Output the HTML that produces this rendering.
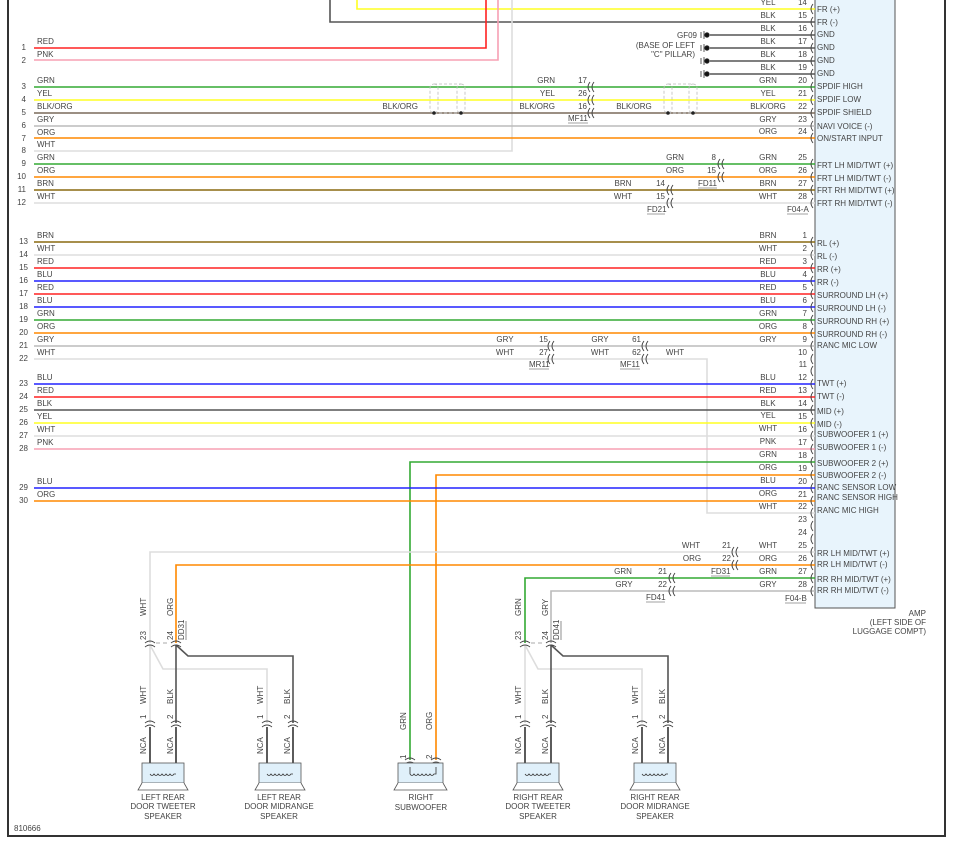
<!DOCTYPE html>
<html><head><meta charset="utf-8"><style>
html,body{margin:0;padding:0;background:#fff;}
svg{display:block;}
text{font-family:"Liberation Sans",sans-serif;font-size:8px;fill:#444;}
.e{text-anchor:end}.m{text-anchor:middle}
</style></head><body>
<svg width="953" height="848" viewBox="0 0 953 848" xmlns="http://www.w3.org/2000/svg">
<defs>
<path id="cc" d="M2 -5 q-4 5 0 10 M6 -5 q-4 5 0 10" stroke="#444" stroke-width="0.9" fill="none"/>
<path id="c1" d="M3 -5 q-4 5 0 10" stroke="#444" stroke-width="0.9" fill="none"/>
<path id="vc" d="M-5 -2 q5 -4 10 0 M-5 2 q5 -4 10 0" stroke="#444" stroke-width="0.9" fill="none"/>
</defs>
<!-- frame -->
<path d="M8 0 V836 H945 V0" stroke="#333" stroke-width="2" fill="none"/>
<!-- amp box -->
<rect x="815" y="-2" width="80" height="610" fill="#e8f4fc" stroke="#555" stroke-width="1"/>
<text class="e" x="926" y="616">AMP</text>
<text class="e" x="926" y="625">(LEFT SIDE OF</text>
<text class="e" x="926" y="634">LUGGAGE COMPT)</text>
<text x="14" y="831">810666</text>

<g fill="none" stroke-width="1.6">
<!-- top -->
<path d="M357 0 V9 H815" stroke="#ff2"/>
<path d="M330 0 V22 H815" stroke="#555"/>
<path d="M34 48 H486 V0" stroke="#f22"/>
<path d="M34 60 H498 V0" stroke="#f7a0b4"/>
<path d="M34 151 H512 V0" stroke="#ddd"/>
<path d="M710 35H815M710 48H815M710 61H815M710 74H815" stroke="#555"/>
<line x1="34" y1="87" x2="815" y2="87" stroke="#3a3"/>
<line x1="34" y1="100" x2="815" y2="100" stroke="#ff2"/>
<line x1="34" y1="113" x2="815" y2="113" stroke="#7a6a5a"/>
<line x1="34" y1="126" x2="815" y2="126" stroke="#bbb"/>
<line x1="34" y1="138" x2="815" y2="138" stroke="#f80"/>
<line x1="34" y1="164" x2="815" y2="164" stroke="#3a3"/>
<line x1="34" y1="177" x2="815" y2="177" stroke="#f80"/>
<line x1="34" y1="190" x2="815" y2="190" stroke="#8a6a10"/>
<line x1="34" y1="203" x2="815" y2="203" stroke="#ddd"/>
<!-- F04-B -->
<line x1="34" y1="242" x2="815" y2="242" stroke="#8a6a10"/>
<line x1="34" y1="255" x2="815" y2="255" stroke="#ddd"/>
<line x1="34" y1="268" x2="815" y2="268" stroke="#f22"/>
<line x1="34" y1="281" x2="815" y2="281" stroke="#22f"/>
<line x1="34" y1="294" x2="815" y2="294" stroke="#f22"/>
<line x1="34" y1="307" x2="815" y2="307" stroke="#22f"/>
<line x1="34" y1="320" x2="815" y2="320" stroke="#3a3"/>
<line x1="34" y1="333" x2="815" y2="333" stroke="#f80"/>
<line x1="34" y1="346" x2="815" y2="346" stroke="#bbb"/>
<path d="M34 359 H707 V513 H815" stroke="#ddd"/>
<line x1="34" y1="384" x2="815" y2="384" stroke="#22f"/>
<line x1="34" y1="397" x2="815" y2="397" stroke="#f22"/>
<line x1="34" y1="410" x2="815" y2="410" stroke="#555"/>
<line x1="34" y1="423" x2="815" y2="423" stroke="#ff2"/>
<line x1="34" y1="436" x2="815" y2="436" stroke="#ddd"/>
<line x1="34" y1="449" x2="815" y2="449" stroke="#f7a0b4"/>
<path d="M410 760 V462 H815" stroke="#3a3"/>
<path d="M436 760 V475 H815" stroke="#f80"/>
<line x1="34" y1="488" x2="815" y2="488" stroke="#22f"/>
<line x1="34" y1="501" x2="815" y2="501" stroke="#f80"/>
<path d="M150 643 V552 H815" stroke="#ddd"/>
<path d="M176 643 V565 H815" stroke="#f80"/>
<path d="M525 643 V578 H815" stroke="#3a3"/>
<path d="M551 643 V591 H815" stroke="#bbb"/>
<!-- junctions -->
<path d="M150 645 V723 M150 645 L163 669 H267 V723" stroke="#ddd"/>
<path d="M176 645 V723 M176 645 L188 656 H293 V723" stroke="#555"/>
<path d="M525 645 V723 M525 645 L538 669 H642 V723" stroke="#ddd"/>
<path d="M551 645 V723 M551 645 L563 656 H668 V723" stroke="#555"/>
<path d="M150 727 V774 M176 727 V774 M267 727 V774 M293 727 V774 M525 727 V774 M551 727 V774 M642 727 V774 M668 727 V774" stroke="#333"/>
</g>
<path d="M156 643 H170 M531 643 H545" stroke="#aaa" stroke-dasharray="4,3"/>
<!-- shields -->
<g fill="none" stroke="#bbb" stroke-width="0.8" stroke-dasharray="3,2">
<rect x="430" y="84" width="8" height="29" rx="4"/><rect x="457" y="84" width="8" height="29" rx="4"/>
<line x1="434" y1="84" x2="461" y2="84"/><line x1="434" y1="113" x2="461" y2="113"/>
<rect x="664" y="84" width="8" height="29" rx="4"/><rect x="689" y="84" width="8" height="29" rx="4"/>
<line x1="668" y1="84" x2="693" y2="84"/><line x1="668" y1="113" x2="693" y2="113"/>
</g>
<circle cx="434" cy="113" r="1.8" fill="#222"/><circle cx="461" cy="113" r="1.8" fill="#222"/>
<circle cx="668" cy="113" r="1.8" fill="#222"/><circle cx="693" cy="113" r="1.8" fill="#222"/>
<!-- grounds -->
<g fill="#111" stroke="#333" stroke-width="0.8">
<circle cx="707" cy="35" r="2.3"/><path d="M704 31V39M701 32V38"/>
<circle cx="707" cy="48" r="2.3"/><path d="M704 44V52M701 45V51"/>
<circle cx="707" cy="61" r="2.3"/><path d="M704 57V65M701 58V64"/>
<circle cx="707" cy="74" r="2.3"/><path d="M704 70V78M701 71V77"/>
</g>
<text class="e" x="697" y="38">GF09</text>
<text class="e" x="695" y="48">(BASE OF LEFT</text>
<text class="e" x="695" y="57">"C" PILLAR)</text>

<!-- left numbers & labels -->
<g>
<text class="e" x="26" y="50">1</text><text x="37" y="44">RED</text>
<text class="e" x="26" y="63">2</text><text x="37" y="57">PNK</text>
<text class="e" x="26" y="89">3</text><text x="37" y="83">GRN</text>
<text class="e" x="26" y="102">4</text><text x="37" y="96">YEL</text>
<text class="e" x="26" y="115">5</text><text x="37" y="109">BLK/ORG</text>
<text class="e" x="26" y="128">6</text><text x="37" y="122">GRY</text>
<text class="e" x="26" y="141">7</text><text x="37" y="135">ORG</text>
<text class="e" x="26" y="153">8</text><text x="37" y="147">WHT</text>
<text class="e" x="26" y="166">9</text><text x="37" y="160">GRN</text>
<text class="e" x="26" y="179">10</text><text x="37" y="173">ORG</text>
<text class="e" x="26" y="192">11</text><text x="37" y="186">BRN</text>
<text class="e" x="26" y="205">12</text><text x="37" y="199">WHT</text>
<text class="e" x="28" y="244">13</text><text x="37" y="238">BRN</text>
<text class="e" x="28" y="257">14</text><text x="37" y="251">WHT</text>
<text class="e" x="28" y="270">15</text><text x="37" y="264">RED</text>
<text class="e" x="28" y="283">16</text><text x="37" y="277">BLU</text>
<text class="e" x="28" y="296">17</text><text x="37" y="290">RED</text>
<text class="e" x="28" y="309">18</text><text x="37" y="303">BLU</text>
<text class="e" x="28" y="322">19</text><text x="37" y="316">GRN</text>
<text class="e" x="28" y="335">20</text><text x="37" y="329">ORG</text>
<text class="e" x="28" y="348">21</text><text x="37" y="342">GRY</text>
<text class="e" x="28" y="361">22</text><text x="37" y="355">WHT</text>
<text class="e" x="28" y="386">23</text><text x="37" y="380">BLU</text>
<text class="e" x="28" y="399">24</text><text x="37" y="393">RED</text>
<text class="e" x="28" y="412">25</text><text x="37" y="406">BLK</text>
<text class="e" x="28" y="425">26</text><text x="37" y="419">YEL</text>
<text class="e" x="28" y="438">27</text><text x="37" y="432">WHT</text>
<text class="e" x="28" y="451">28</text><text x="37" y="445">PNK</text>
<text class="e" x="28" y="490">29</text><text x="37" y="484">BLU</text>
<text class="e" x="28" y="503">30</text><text x="37" y="497">ORG</text>
</g>

<!-- inline connectors -->
<use href="#cc" x="588" y="87"/><use href="#cc" x="588" y="100"/><use href="#cc" x="588" y="113"/>
<text class="e" x="555" y="83">GRN</text><text class="e" x="587" y="83">17</text>
<text class="e" x="555" y="96">YEL</text><text class="e" x="587" y="96">26</text>
<text class="e" x="555" y="109">BLK/ORG</text><text class="e" x="587" y="109">16</text>
<text class="e" x="418" y="109">BLK/ORG</text><text class="m" x="634" y="109">BLK/ORG</text>
<text x="568" y="121">MF11</text><line x1="568" y1="123" x2="588" y2="123" stroke="#444" stroke-width="0.6"/>

<use href="#cc" x="718" y="164"/><use href="#cc" x="718" y="177"/>
<text class="m" x="675" y="160">GRN</text><text class="e" x="716" y="160">8</text>
<text class="m" x="675" y="173">ORG</text><text class="e" x="716" y="173">15</text>
<text x="698" y="186">FD11</text><line x1="698" y1="188" x2="717" y2="188" stroke="#444" stroke-width="0.6"/>
<use href="#cc" x="667" y="190"/><use href="#cc" x="667" y="203"/>
<text class="m" x="623" y="186">BRN</text><text class="e" x="665" y="186">14</text>
<text class="m" x="623" y="199">WHT</text><text class="e" x="665" y="199">15</text>
<text x="647" y="212">FD21</text><line x1="647" y1="214" x2="665" y2="214" stroke="#444" stroke-width="0.6"/>
<text x="787" y="212">F04-A</text><line x1="787" y1="214" x2="808" y2="214" stroke="#444" stroke-width="0.6"/>

<use href="#cc" x="548" y="346"/><use href="#cc" x="548" y="359"/>
<text class="m" x="505" y="342">GRY</text><text class="e" x="548" y="342">15</text>
<text class="m" x="505" y="355">WHT</text><text class="e" x="548" y="355">27</text>
<text x="529" y="367">MR11</text><line x1="529" y1="369" x2="549" y2="369" stroke="#444" stroke-width="0.6"/>
<use href="#cc" x="642" y="346"/><use href="#cc" x="642" y="359"/>
<text class="m" x="600" y="342">GRY</text><text class="e" x="641" y="342">61</text>
<text class="m" x="600" y="355">WHT</text><text class="e" x="641" y="355">62</text>
<text class="m" x="675" y="355">WHT</text>
<text x="620" y="367">MF11</text><line x1="620" y1="369" x2="640" y2="369" stroke="#444" stroke-width="0.6"/>

<use href="#cc" x="732" y="552"/><use href="#cc" x="732" y="565"/>
<text class="m" x="691" y="548">WHT</text><text class="e" x="731" y="548">21</text>
<text class="m" x="692" y="561">ORG</text><text class="e" x="731" y="561">22</text>
<text x="711" y="574">FD31</text><line x1="711" y1="576" x2="730" y2="576" stroke="#444" stroke-width="0.6"/>
<use href="#cc" x="669" y="578"/><use href="#cc" x="669" y="591"/>
<text class="m" x="623" y="574">GRN</text><text class="e" x="667" y="574">21</text>
<text class="m" x="624" y="587">GRY</text><text class="e" x="667" y="587">22</text>
<text x="646" y="600">FD41</text><line x1="646" y1="602" x2="665" y2="602" stroke="#444" stroke-width="0.6"/>
<text x="785" y="601">F04-B</text><line x1="785" y1="603" x2="806" y2="603" stroke="#444" stroke-width="0.6"/>

<!-- amp pins F04-A -->
<g>
<use href="#c1" x="810" y="9"/><text class="m" x="768" y="5">YEL</text><text class="e" x="807" y="5">14</text><text x="817" y="12">FR (+)</text>
<use href="#c1" x="810" y="22"/><text class="m" x="768" y="18">BLK</text><text class="e" x="807" y="18">15</text><text x="817" y="25">FR (-)</text>
<use href="#c1" x="810" y="35"/><text class="m" x="768" y="31">BLK</text><text class="e" x="807" y="31">16</text><text x="817" y="37">GND</text>
<use href="#c1" x="810" y="48"/><text class="m" x="768" y="44">BLK</text><text class="e" x="807" y="44">17</text><text x="817" y="50">GND</text>
<use href="#c1" x="810" y="61"/><text class="m" x="768" y="57">BLK</text><text class="e" x="807" y="57">18</text><text x="817" y="63">GND</text>
<use href="#c1" x="810" y="74"/><text class="m" x="768" y="70">BLK</text><text class="e" x="807" y="70">19</text><text x="817" y="76">GND</text>
<use href="#c1" x="810" y="87"/><text class="m" x="768" y="83">GRN</text><text class="e" x="807" y="83">20</text><text x="817" y="89">SPDIF HIGH</text>
<use href="#c1" x="810" y="100"/><text class="m" x="768" y="96">YEL</text><text class="e" x="807" y="96">21</text><text x="817" y="102">SPDIF LOW</text>
<use href="#c1" x="810" y="113"/><text class="m" x="768" y="109">BLK/ORG</text><text class="e" x="807" y="109">22</text><text x="817" y="115">SPDIF SHIELD</text>
<use href="#c1" x="810" y="126"/><text class="m" x="768" y="122">GRY</text><text class="e" x="807" y="122">23</text><text x="817" y="129">NAVI VOICE (-)</text>
<use href="#c1" x="810" y="138"/><text class="m" x="768" y="134">ORG</text><text class="e" x="807" y="134">24</text><text x="817" y="141">ON/START INPUT</text>
<use href="#c1" x="810" y="164"/><text class="m" x="768" y="160">GRN</text><text class="e" x="807" y="160">25</text><text x="817" y="168">FRT LH MID/TWT (+)</text>
<use href="#c1" x="810" y="177"/><text class="m" x="768" y="173">ORG</text><text class="e" x="807" y="173">26</text><text x="817" y="181">FRT LH MID/TWT (-)</text>
<use href="#c1" x="810" y="190"/><text class="m" x="768" y="186">BRN</text><text class="e" x="807" y="186">27</text><text x="817" y="193">FRT RH MID/TWT (+)</text>
<use href="#c1" x="810" y="203"/><text class="m" x="768" y="199">WHT</text><text class="e" x="807" y="199">28</text><text x="817" y="206">FRT RH MID/TWT (-)</text>
</g>
<!-- amp pins F04-B -->
<g>
<use href="#c1" x="810" y="242"/><text class="m" x="768" y="238">BRN</text><text class="e" x="807" y="238">1</text><text x="817" y="246">RL (+)</text>
<use href="#c1" x="810" y="255"/><text class="m" x="768" y="251">WHT</text><text class="e" x="807" y="251">2</text><text x="817" y="259">RL (-)</text>
<use href="#c1" x="810" y="268"/><text class="m" x="768" y="264">RED</text><text class="e" x="807" y="264">3</text><text x="817" y="272">RR (+)</text>
<use href="#c1" x="810" y="281"/><text class="m" x="768" y="277">BLU</text><text class="e" x="807" y="277">4</text><text x="817" y="285">RR (-)</text>
<use href="#c1" x="810" y="294"/><text class="m" x="768" y="290">RED</text><text class="e" x="807" y="290">5</text><text x="817" y="298">SURROUND LH (+)</text>
<use href="#c1" x="810" y="307"/><text class="m" x="768" y="303">BLU</text><text class="e" x="807" y="303">6</text><text x="817" y="311">SURROUND LH (-)</text>
<use href="#c1" x="810" y="320"/><text class="m" x="768" y="316">GRN</text><text class="e" x="807" y="316">7</text><text x="817" y="324">SURROUND RH (+)</text>
<use href="#c1" x="810" y="333"/><text class="m" x="768" y="329">ORG</text><text class="e" x="807" y="329">8</text><text x="817" y="337">SURROUND RH (-)</text>
<use href="#c1" x="810" y="346"/><text class="m" x="768" y="342">GRY</text><text class="e" x="807" y="342">9</text><text x="817" y="348">RANC MIC LOW</text>
<use href="#c1" x="810" y="359"/><text class="e" x="807" y="355">10</text>
<use href="#c1" x="810" y="371"/><text class="e" x="807" y="367">11</text>
<use href="#c1" x="810" y="384"/><text class="m" x="768" y="380">BLU</text><text class="e" x="807" y="380">12</text><text x="817" y="386">TWT (+)</text>
<use href="#c1" x="810" y="397"/><text class="m" x="768" y="393">RED</text><text class="e" x="807" y="393">13</text><text x="817" y="399">TWT (-)</text>
<use href="#c1" x="810" y="410"/><text class="m" x="768" y="406">BLK</text><text class="e" x="807" y="406">14</text><text x="817" y="414">MID (+)</text>
<use href="#c1" x="810" y="423"/><text class="m" x="768" y="418">YEL</text><text class="e" x="807" y="419">15</text><text x="817" y="427">MID (-)</text>
<use href="#c1" x="810" y="436"/><text class="m" x="768" y="431">WHT</text><text class="e" x="807" y="432">16</text><text x="817" y="437">SUBWOOFER 1 (+)</text>
<use href="#c1" x="810" y="449"/><text class="m" x="768" y="444">PNK</text><text class="e" x="807" y="445">17</text><text x="817" y="450">SUBWOOFER 1 (-)</text>
<use href="#c1" x="810" y="462"/><text class="m" x="768" y="457">GRN</text><text class="e" x="807" y="458">18</text><text x="817" y="466">SUBWOOFER 2 (+)</text>
<use href="#c1" x="810" y="475"/><text class="m" x="768" y="470">ORG</text><text class="e" x="807" y="471">19</text><text x="817" y="478">SUBWOOFER 2 (-)</text>
<use href="#c1" x="810" y="488"/><text class="m" x="768" y="483">BLU</text><text class="e" x="807" y="484">20</text><text x="817" y="490">RANC SENSOR LOW</text>
<use href="#c1" x="810" y="501"/><text class="m" x="768" y="496">ORG</text><text class="e" x="807" y="497">21</text><text x="817" y="500">RANC SENSOR HIGH</text>
<use href="#c1" x="810" y="513"/><text class="m" x="768" y="509">WHT</text><text class="e" x="807" y="509">22</text><text x="817" y="513">RANC MIC HIGH</text>
<use href="#c1" x="810" y="526"/><text class="e" x="807" y="522">23</text>
<use href="#c1" x="810" y="539"/><text class="e" x="807" y="535">24</text>
<use href="#c1" x="810" y="552"/><text class="m" x="768" y="548">WHT</text><text class="e" x="807" y="548">25</text><text x="817" y="556">RR LH MID/TWT (+)</text>
<use href="#c1" x="810" y="565"/><text class="m" x="768" y="561">ORG</text><text class="e" x="807" y="561">26</text><text x="817" y="567">RR LH MID/TWT (-)</text>
<use href="#c1" x="810" y="578"/><text class="m" x="768" y="574">GRN</text><text class="e" x="807" y="574">27</text><text x="817" y="582">RR RH MID/TWT (+)</text>
<use href="#c1" x="810" y="591"/><text class="m" x="768" y="587">GRY</text><text class="e" x="807" y="587">28</text><text x="817" y="593">RR RH MID/TWT (-)</text>
</g>

<!-- bottom connectors -->
<g>
<use href="#vc" x="150" y="645"/><use href="#vc" x="176" y="645"/>
<use href="#vc" x="525" y="645"/><use href="#vc" x="551" y="645"/>
<use href="#vc" x="150" y="725"/><use href="#vc" x="176" y="725"/>
<use href="#vc" x="267" y="725"/><use href="#vc" x="293" y="725"/>
<use href="#vc" x="525" y="725"/><use href="#vc" x="551" y="725"/>
<use href="#vc" x="642" y="725"/><use href="#vc" x="668" y="725"/>
<use href="#vc" x="410" y="762"/><use href="#vc" x="436" y="762"/>
</g>
<!-- vertical labels -->
<g>
<text transform="translate(146,616) rotate(-90)">WHT</text>
<text transform="translate(173,616) rotate(-90)">ORG</text>
<text transform="translate(146,640) rotate(-90)">23</text>
<text transform="translate(173,640) rotate(-90)">24</text>
<text transform="translate(184,640) rotate(-90)">DD31</text><line x1="186" y1="621" x2="186" y2="640" stroke="#444" stroke-width="0.6"/>
<text transform="translate(521,616) rotate(-90)">GRN</text>
<text transform="translate(548,616) rotate(-90)">GRY</text>
<text transform="translate(521,640) rotate(-90)">23</text>
<text transform="translate(548,640) rotate(-90)">24</text>
<text transform="translate(559,640) rotate(-90)">DD41</text><line x1="561" y1="621" x2="561" y2="640" stroke="#444" stroke-width="0.6"/>
<text transform="translate(146,704) rotate(-90)">WHT</text><text transform="translate(173,704) rotate(-90)">BLK</text>
<text transform="translate(263,704) rotate(-90)">WHT</text><text transform="translate(290,704) rotate(-90)">BLK</text>
<text transform="translate(521,704) rotate(-90)">WHT</text><text transform="translate(548,704) rotate(-90)">BLK</text>
<text transform="translate(638,704) rotate(-90)">WHT</text><text transform="translate(665,704) rotate(-90)">BLK</text>
<text transform="translate(146,719) rotate(-90)">1</text><text transform="translate(173,719) rotate(-90)">2</text>
<text transform="translate(263,719) rotate(-90)">1</text><text transform="translate(290,719) rotate(-90)">2</text>
<text transform="translate(521,719) rotate(-90)">1</text><text transform="translate(548,719) rotate(-90)">2</text>
<text transform="translate(638,719) rotate(-90)">1</text><text transform="translate(665,719) rotate(-90)">2</text>
<text transform="translate(146,754) rotate(-90)">NCA</text><text transform="translate(173,754) rotate(-90)">NCA</text>
<text transform="translate(263,754) rotate(-90)">NCA</text><text transform="translate(290,754) rotate(-90)">NCA</text>
<text transform="translate(521,754) rotate(-90)">NCA</text><text transform="translate(548,754) rotate(-90)">NCA</text>
<text transform="translate(638,754) rotate(-90)">NCA</text><text transform="translate(665,754) rotate(-90)">NCA</text>
<text transform="translate(406,730) rotate(-90)">GRN</text><text transform="translate(432,730) rotate(-90)">ORG</text>
<text transform="translate(406,759) rotate(-90)">1</text><text transform="translate(432,759) rotate(-90)">2</text>
</g>
<!-- speakers -->
<g fill="#e0f0fa" stroke="#555" stroke-width="0.8">
<rect x="142" y="763" width="42" height="20"/><path d="M142 783 L138 790 H188 L184 783" fill="#fff"/>
<rect x="259" y="763" width="42" height="20"/><path d="M259 783 L255 790 H305 L301 783" fill="#fff"/>
<rect x="398" y="763" width="45" height="20"/><path d="M398 783 L394 790 H447 L443 783" fill="#fff"/>
<rect x="517" y="763" width="42" height="20"/><path d="M517 783 L513 790 H563 L559 783" fill="#fff"/>
<rect x="634" y="763" width="42" height="20"/><path d="M634 783 L630 790 H680 L676 783" fill="#fff"/>
</g>
<g fill="none" stroke="#333" stroke-width="0.8">
<path d="M150 774 q2 3 4 0 q2 3 4 0 q2 3 4 0 q2 3 4 0 q2 3 4 0 q2 3 4 0 h2"/>
<path d="M267 774 q2 3 4 0 q2 3 4 0 q2 3 4 0 q2 3 4 0 q2 3 4 0 q2 3 4 0 h2"/>
<path d="M410 767 V774 q2 3 4 0 q2 3 4 0 q2 3 4 0 q2 3 4 0 q2 3 4 0 q2 3 4 0 h2 V767"/>
<path d="M525 774 q2 3 4 0 q2 3 4 0 q2 3 4 0 q2 3 4 0 q2 3 4 0 q2 3 4 0 h2"/>
<path d="M642 774 q2 3 4 0 q2 3 4 0 q2 3 4 0 q2 3 4 0 q2 3 4 0 q2 3 4 0 h2"/>
</g>
<g class="m">
<text class="m" x="163" y="800">LEFT REAR</text><text class="m" x="163" y="809">DOOR TWEETER</text><text class="m" x="163" y="819">SPEAKER</text>
<text class="m" x="279" y="800">LEFT REAR</text><text class="m" x="279" y="809">DOOR MIDRANGE</text><text class="m" x="279" y="819">SPEAKER</text>
<text class="m" x="421" y="800">RIGHT</text><text class="m" x="421" y="810">SUBWOOFER</text>
<text class="m" x="538" y="800">RIGHT REAR</text><text class="m" x="538" y="809">DOOR TWEETER</text><text class="m" x="538" y="819">SPEAKER</text>
<text class="m" x="655" y="800">RIGHT REAR</text><text class="m" x="655" y="809">DOOR MIDRANGE</text><text class="m" x="655" y="819">SPEAKER</text>
</g>
</svg>
</body></html>
